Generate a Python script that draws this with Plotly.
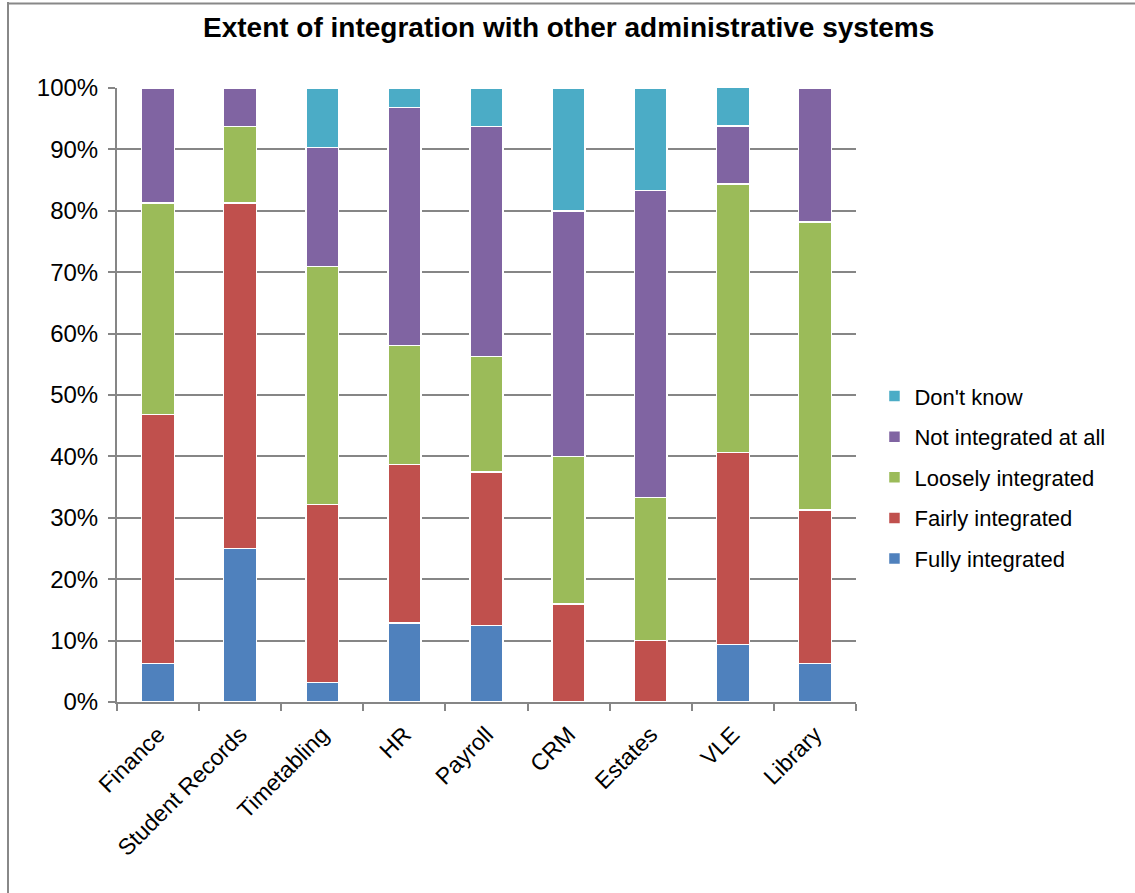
import plotly.graph_objects as go

categories = ["Finance", "Student Records", "Timetabling", "HR", "Payroll",
              "CRM", "Estates", "VLE", "Library"]

fully = [6.25, 25.0, 3.2, 12.9, 12.5, 0.0, 0.0, 9.4, 6.25]
fairly = [40.6, 56.25, 29.0, 25.8, 25.0, 16.0, 10.0, 31.25, 25.0]
loosely = [34.4, 12.5, 38.7, 19.4, 18.75, 24.0, 23.3, 43.75, 46.9]
not_at_all = [18.75, 6.25, 19.4, 38.7, 37.5, 40.0, 50.0, 9.4, 21.85]
dont_know = [0.0, 0.0, 9.7, 3.2, 6.25, 20.0, 16.7, 6.25, 0.0]

series = [
    ("Fully integrated", fully, "#4F81BD"),
    ("Fairly integrated", fairly, "#C0504D"),
    ("Loosely integrated", loosely, "#9BBB59"),
    ("Not integrated at all", not_at_all, "#8064A2"),
    ("Don't know", dont_know, "#4BACC6"),
]

FONT = "Liberation Sans, Arial, sans-serif"
GRID = "#868686"

fig = go.Figure()
n = len(series)
for i, (name, vals, color) in enumerate(series):
    fig.add_trace(go.Bar(
        x=categories, y=vals, name=name, legendgroup=name,
        legendrank=n - i,
        marker=dict(color=color, line=dict(color="white", width=1.5)),
    ))

fig.update_layout(
    barmode="stack",
    bargap=0.6,
    width=1135, height=893,
    margin=dict(l=117, r=279, t=88, b=191),
    paper_bgcolor="white", plot_bgcolor="white",
    font=dict(family=FONT, color="black", size=23),
    title=dict(text="<b>Extent of integration with other administrative systems</b>",
               x=0.501, xref="container", xanchor="center", y=0.97, yanchor="middle",
               font=dict(size=28, family=FONT, color="black")),
    legend=dict(x=1.025, y=0.366, xanchor="left", yanchor="middle",
                traceorder="grouped", tracegroupgap=9, itemwidth=30,
                font=dict(size=22, family=FONT, color="black"),
                bgcolor="rgba(0,0,0,0)"),
    xaxis=dict(showline=True, linecolor=GRID, linewidth=2,
               ticks="outside", tickson="boundaries", ticklen=7, tickwidth=2,
               tickcolor=GRID, tickangle=-45, showgrid=False,
               ticklabelstandoff=8,
               tickfont=dict(size=23, family=FONT, color="black")),
    yaxis=dict(range=[0, 100], dtick=10, ticksuffix="%",
               showline=True, linecolor=GRID, linewidth=2,
               ticks="outside", ticklen=7, tickwidth=2, tickcolor=GRID,
               showgrid=True, gridcolor=GRID, gridwidth=2, zeroline=False,
               ticklabelstandoff=5,
               tickfont=dict(size=24, family=FONT, color="black")),
)

# chart area border (left and top visible)
fig.add_shape(type="line", xref="paper", yref="paper",
              x0=-0.1475, x1=-0.1475, y0=1.14, y1=-0.40,
              line=dict(color="#888888", width=2))
fig.add_shape(type="line", xref="paper", yref="paper",
              x0=-0.1475, x1=1.45, y0=1.1375, y1=1.1375,
              line=dict(color="#888888", width=2))

fig.write_html("out.html")
